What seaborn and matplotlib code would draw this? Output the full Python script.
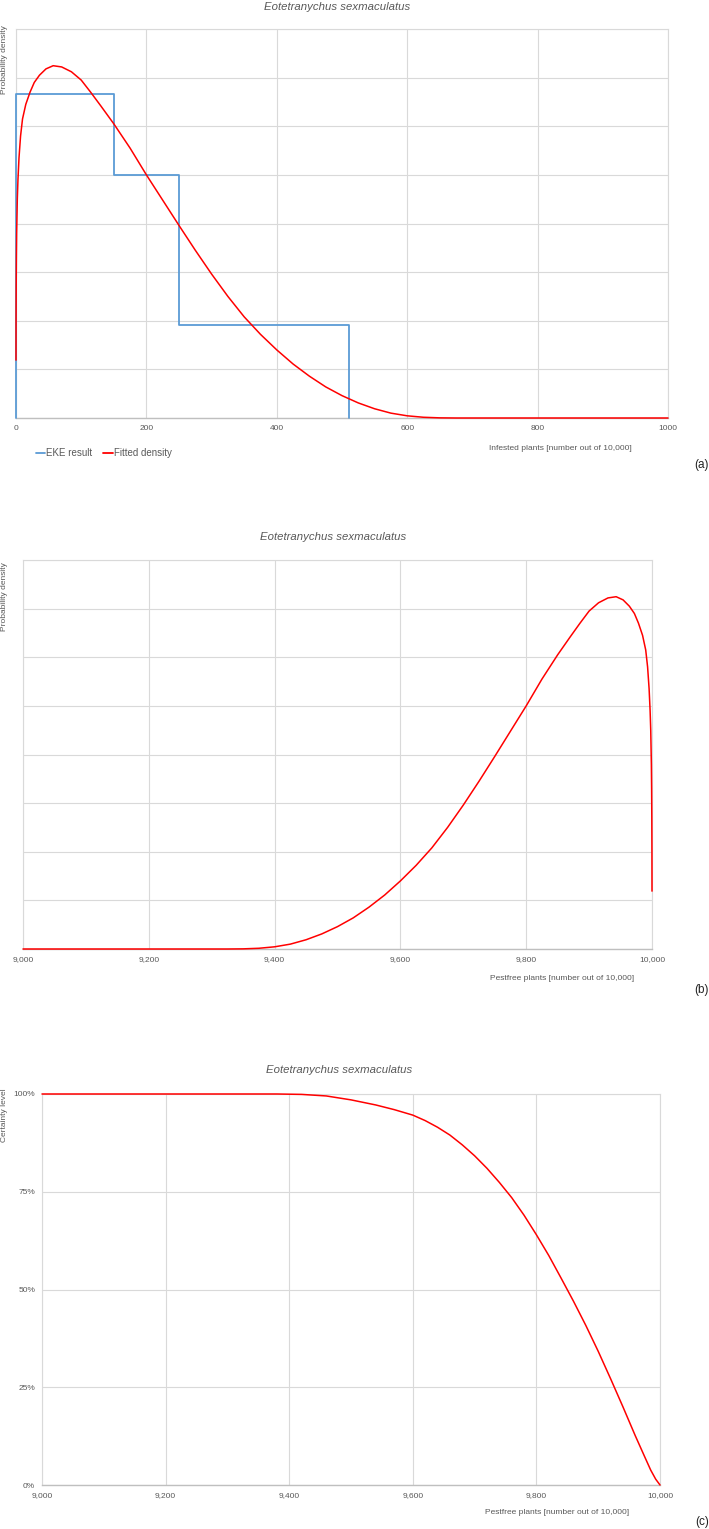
import numpy as np
import pandas as pd
import matplotlib
matplotlib.use("Agg")
import matplotlib.pyplot as plt
import seaborn as sns

# ---------------- data ----------------
title = "Eotetranychus sexmaculatus"

# EKE result (histogram-like steps) on infested plants
eke_edges = [0, 150, 250, 510]
eke_heights = [6.67, 5.0, 1.91]

# Fitted density on infested plants (grid units)
infested_x = [0, 0.1, 0.3, 0.6, 1, 2, 3, 4.6, 7, 10, 15, 21.5, 28, 36, 46, 57,
              70, 85, 100, 114.5, 130, 150, 175, 200, 225, 250, 275, 300, 325,
              350, 375, 400, 425, 450, 475, 500, 525, 550, 575, 600, 625, 650,
              675, 1000]
fitted_density = [1.19, 2.0, 2.7, 3.3, 3.8, 4.5, 4.9, 5.35, 5.8, 6.15, 6.45,
                  6.70, 6.90, 7.05, 7.18, 7.245, 7.22, 7.12, 6.95, 6.70, 6.42,
                  6.05, 5.55, 5.0, 4.48, 3.96, 3.45, 2.96, 2.50, 2.08, 1.72,
                  1.40, 1.11, 0.86, 0.64, 0.46, 0.31, 0.19, 0.10, 0.045, 0.015,
                  0.003, 0, 0]

# Certainty level vs pest-free plants
pestfree_c = [9000, 9300, 9380, 9420, 9460, 9500, 9540, 9570, 9600, 9620, 9640,
              9660, 9680, 9700, 9720, 9740, 9760, 9780, 9800, 9820, 9840, 9860,
              9880, 9900, 9920, 9940, 9960, 9975, 9985, 9993, 10000]
certainty = [100, 100, 100, 99.9, 99.5, 98.5, 97.2, 96.0, 94.6, 93.2, 91.5,
             89.5, 87.0, 84.2, 81.0, 77.4, 73.5, 69.0, 64.0, 58.7, 52.9, 47.0,
             40.8, 34.2, 27.2, 20.0, 12.6, 7.3, 3.8, 1.5, 0]

xticks_a = [0, 200, 400, 600, 800, 1000]
xticks_bc = [9000, 9200, 9400, 9600, 9800, 10000]
xticklabels_bc = ["9,000", "9,200", "9,400", "9,600", "9,800", "10,000"]
yticks_c = [0, 25, 50, 75, 100]
yticklabels_c = ["0%", "25%", "50%", "75%", "100%"]

# ---------------- style ----------------
sns.set_theme(style="white")
plt.rcParams['font.family'] = ['Liberation Sans', 'DejaVu Sans']

W, H = 709, 1529
fig = plt.figure(figsize=(W / 100, H / 100), dpi=100)

GRID = "#d9d9d9"
TXT = "#595959"
BLUE = "#5B9BD5"
RED = "#FF0000"


def fx(x):
    return x / W


def fy(y):
    return 1 - y / H


def add_axes(l, r, t, b):
    return fig.add_axes([fx(l), fy(b), fx(r) - fx(l), fy(t) - fy(b)])


def style_axes(ax, xlim, ylim, xticks, xticklabels, yticks, yticklabels=None):
    ax.set_xlim(*xlim)
    ax.set_ylim(*ylim)
    ax.set_xticks(xticks)
    ax.set_xticklabels(xticklabels, fontsize=6, color=TXT)
    ax.set_yticks(yticks)
    if yticklabels is None:
        ax.set_yticklabels([])
    else:
        ax.set_yticklabels(yticklabels, fontsize=6, color=TXT)
    ax.tick_params(axis='both', length=0, pad=5)
    ax.grid(True, color=GRID, linewidth=0.8)
    ax.set_axisbelow(True)
    for s in ['left', 'top', 'right']:
        ax.spines[s].set_color(GRID)
        ax.spines[s].set_linewidth(0.8)
    ax.spines['bottom'].set_color("#bfbfbf")
    ax.spines['bottom'].set_linewidth(1.0)
    ax.set_xlabel("")
    ax.set_ylabel("")
    if ax.get_legend() is not None:
        ax.get_legend().remove()
    for l in ax.lines:
        l.set_clip_on(False)
        l.set_zorder(3)


# ---------------- panel (a) ----------------
ax_a = add_axes(16, 668, 29, 418)
step_x, step_y = [eke_edges[0]], [0]
for i, h in enumerate(eke_heights):
    step_x += [eke_edges[i], eke_edges[i + 1]]
    step_y += [h, h]
step_x += [eke_edges[-1]]
step_y += [0]
df_eke = pd.DataFrame({"x": step_x, "y": step_y})
sns.lineplot(data=df_eke, x="x", y="y", sort=False, estimator=None,
             color=BLUE, linewidth=1.3, ax=ax_a)
df_fit = pd.DataFrame({"x": infested_x, "y": fitted_density})
sns.lineplot(data=df_fit, x="x", y="y", sort=False, estimator=None,
             color=RED, linewidth=1.1, ax=ax_a)
style_axes(ax_a, (0, 1000), (0, 8), xticks_a, [str(t) for t in xticks_a],
           list(range(9)))

fig.text(fx(337), fy(7), title, ha='center', va='center', fontsize=8.2,
         style='italic', color=TXT)
fig.text(fx(5), fy(25), "Probability density", rotation=90, ha='center',
         va='top', fontsize=6, color=TXT)
fig.text(fx(560), fy(449), "Infested plants [number out of 10,000]",
         ha='center', va='center', fontsize=6, color=TXT)
fig.text(fx(709), fy(465), "(a)", ha='right', va='center', fontsize=8.5,
         color="#222222")
leg_handles = [plt.Line2D([], [], color=BLUE, lw=1.3),
               plt.Line2D([], [], color=RED, lw=1.3)]
fig.legend(leg_handles, ["EKE result", "Fitted density"], loc='center left',
           bbox_to_anchor=(fx(27), fy(453)), ncol=2, frameon=False,
           fontsize=7, handlelength=1.0, handletextpad=0.1,
           columnspacing=1.1, labelcolor=TXT)

# ---------------- panel (b) ----------------
ax_b = add_axes(23, 652, 560, 949)
pestfree_x = [10000 - v for v in infested_x]
df_b = pd.DataFrame({"x": pestfree_x, "y": fitted_density})
sns.lineplot(data=df_b, x="x", y="y", sort=False, estimator=None,
             color=RED, linewidth=1.1, ax=ax_b)
style_axes(ax_b, (9000, 10000), (0, 8), xticks_bc, xticklabels_bc,
           list(range(9)))
fig.text(fx(333), fy(537), title, ha='center', va='center', fontsize=8.2,
         style='italic', color=TXT)
fig.text(fx(5), fy(562), "Probability density", rotation=90, ha='center',
         va='top', fontsize=6, color=TXT)
fig.text(fx(562), fy(979), "Pestfree plants [number out of 10,000]",
         ha='center', va='center', fontsize=6, color=TXT)
fig.text(fx(709), fy(990), "(b)", ha='right', va='center', fontsize=8.5,
         color="#222222")

# ---------------- panel (c) ----------------
ax_c = add_axes(42, 660, 1094, 1485)
df_c = pd.DataFrame({"x": pestfree_c, "y": certainty})
sns.lineplot(data=df_c, x="x", y="y", sort=False, estimator=None,
             color=RED, linewidth=1.1, ax=ax_c)
style_axes(ax_c, (9000, 10000), (0, 100), xticks_bc, xticklabels_bc,
           yticks_c, yticklabels_c)
fig.text(fx(339), fy(1070), title, ha='center', va='center', fontsize=8.2,
         style='italic', color=TXT)
fig.text(fx(5), fy(1088), "Certainty level", rotation=90, ha='center',
         va='top', fontsize=6, color=TXT)
fig.text(fx(557), fy(1513), "Pestfree plants [number out of 10,000]",
         ha='center', va='center', fontsize=6, color=TXT)
fig.text(fx(709), fy(1522), "(c)", ha='right', va='center', fontsize=8.5,
         color="#222222")

fig.savefig("out.png", dpi=100)
